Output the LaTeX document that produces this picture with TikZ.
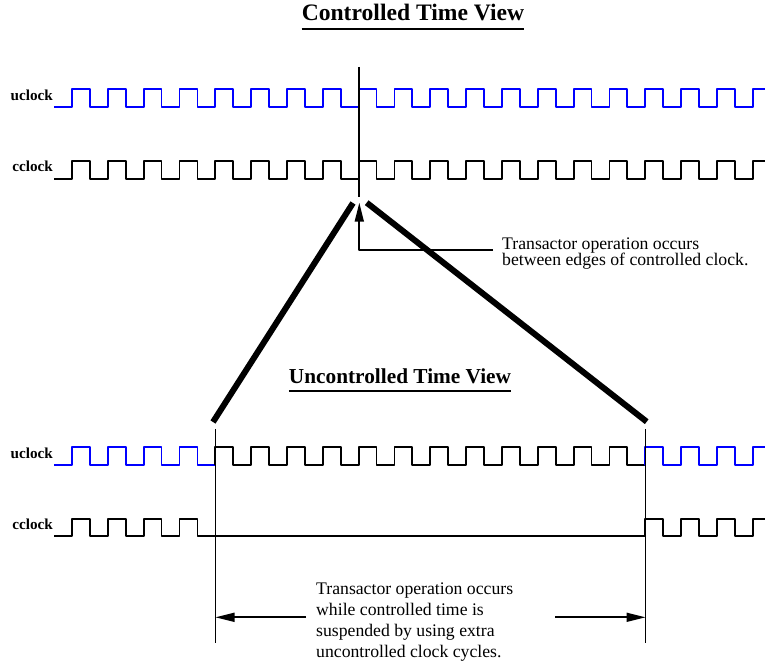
\documentclass[tikz,border=0pt]{standalone}
\usepackage{fontspec}
\setmainfont{Liberation Serif}
\usetikzlibrary{arrows.meta}
\tikzset{
	uclk/.style={blue,line width=1.8pt},
	cclk/.style={black,line width=1.8pt},
	lbl/.style={font=\fontsize{15.2}{18}\selectfont\bfseries,inner sep=0pt},
	ttl/.style={inner sep=0pt},
	note/.style={align=left,inner sep=0pt},
	edgeline/.style={line width=1.5pt},
	zoomline/.style={line width=6pt,line cap=butt},
	pointer/.style={line width=1.7pt,-{Triangle[length=19pt,width=9pt]}}
}
\def\per{35.83}
\def\hp{17.92}
\begin{document}
\begin{tikzpicture}[x=1pt,y=-1pt,line join=round]
			\useasboundingbox (0,0) rectangle (765,663);
			% titles
			\node[ttl,anchor=base,font=\fontsize{23.6}{28}\selectfont\bfseries] (CT) at (413,20.7) {Controlled Time View};
			\draw[line width=2pt] ([yshift=-8pt]CT.base west) -- ([yshift=-8pt]CT.base east);
			\node[ttl,anchor=base,font=\fontsize{21.3}{26}\selectfont\bfseries] (UT) at (400,383) {Uncontrolled Time View};
			\draw[line width=2pt] ([yshift=-8pt]UT.base west) -- ([yshift=-8pt]UT.base east);
			% labels
			\node[lbl,anchor=base east] (U1) at (53,101) {uclock};
			\node[lbl,anchor=base east] (C1) at (53,171.7) {cclock};
			\node[lbl,anchor=base east] (U2) at (53,458) {uclock};
			\node[lbl,anchor=base east] (C2) at (53,529) {cclock};
			% controlled time view
			\draw[uclk] (54,107) foreach \k [evaluate=\k as \x using 72+\k*\per] in {0,...,18} {-- (\x,107) -- (\x,89) -- (\x+\hp,89) -- (\x+\hp,107)} -- (752.7,107) -- (752.7,89) -- (765,89);
			\draw[cclk] (54,178.7) foreach \k [evaluate=\k as \x using 72+\k*\per] in {0,...,18} {-- (\x,178.7) -- (\x,160.7) -- (\x+\hp,160.7) -- (\x+\hp,178.7)} -- (752.7,178.7) -- (752.7,160.7) -- (765,160.7);
			% uncontrolled time view
			\draw[uclk] (54,465) foreach \k [evaluate=\k as \x using 72+\k*\per] in {0,...,3} {-- (\x,465) -- (\x,447) -- (\x+\hp,447) -- (\x+\hp,465)} -- (215.3,465);
			\draw[cclk] (215.3,465) foreach \k [evaluate=\k as \x using 72+\k*\per] in {4,...,15} {-- (\x,465) -- (\x,447) -- (\x+\hp,447) -- (\x+\hp,465)} -- (645.3,465);
			\draw[uclk] (645.3,465) foreach \k [evaluate=\k as \x using 72+\k*\per] in {16,...,18} {-- (\x,465) -- (\x,447) -- (\x+\hp,447) -- (\x+\hp,465)} -- (752.7,465) -- (752.7,447) -- (765,447);
			\draw[cclk] (54,536) foreach \k [evaluate=\k as \x using 72+\k*\per] in {0,...,3} {-- (\x,536) -- (\x,519) -- (\x+\hp,519) -- (\x+\hp,536)} -- (645.3,536) foreach \k [evaluate=\k as \x using 72+\k*\per] in {16,...,18} {-- (\x,536) -- (\x,519) -- (\x+\hp,519) -- (\x+\hp,536)} -- (752.7,536) -- (752.7,519) -- (765,519);
			% edge lines
			\coordinate (A) at (359,67);
			\coordinate (B) at (359,197);
			\coordinate (D) at (215.5,429);
			\coordinate (E) at (215.5,643);
			\coordinate (F) at (645.5,429);
			\coordinate (G) at (645.5,643);
			\draw[edgeline] (A)--(B) (D)--(E) (F)--(G);
			% zoom lines
			\coordinate (H) at (353,203);
			\coordinate (I) at (213,422);
			\coordinate (J) at (366.7,202.7);
			\coordinate (K) at (646.7,421.7);
			\draw[zoomline] (H)--(I) (J)--(K);
			% notes
			\node[note,anchor=base west,font=\fontsize{17.7}{16.7}\selectfont] (N1) at (502,265.7) {Transactor operation occurs\\between edges of controlled clock.};
			\node[note,anchor=base west,font=\fontsize{17.7}{21}\selectfont] (N2) at (316,657) {Transactor operation occurs\\while controlled time is\\suspended by using extra\\uncontrolled clock cycles.};
			\coordinate (P) at (493,250);
			\coordinate (Q) at (359.3,250);
			\coordinate (R) at (359.3,202.7);
			\draw[pointer] (P) -- (Q) -- (R);
			\coordinate (L) at (306,617.3);
			\coordinate (M) at (555,617.3);
			\draw[pointer] (L) -- (D |- L);
			\draw[pointer] (M) -- (F |- M);
\end{tikzpicture}
\end{document}
